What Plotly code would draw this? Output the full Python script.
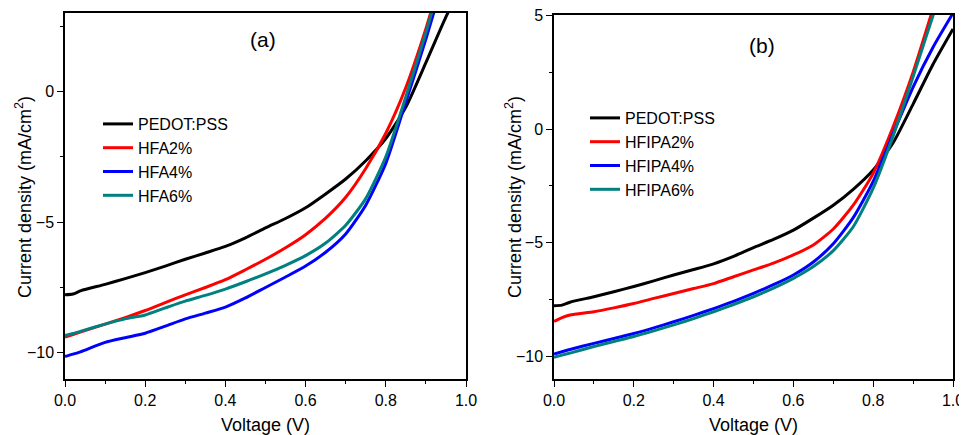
import plotly.graph_objects as go

# ---------------- data ----------------
voltage = [0.0, 0.02, 0.04, 0.1, 0.15, 0.2, 0.25, 0.3, 0.35, 0.4, 0.45, 0.5,
           0.55, 0.6, 0.65, 0.7, 0.75, 0.8, 0.85, 0.9, 0.95, 1.0]

pedot = [-7.78, -7.75, -7.62, -7.38, -7.16, -6.93, -6.68, -6.42, -6.18, -5.93,
         -5.6, -5.22, -4.86, -4.45, -3.92, -3.35, -2.65, -1.8, -0.6, 1.1, 2.85, 4.4]

# panel (a)
hfa2 = [-9.4, -9.3, -9.2, -8.9, -8.65, -8.38, -8.08, -7.78, -7.5, -7.2, -6.82,
        -6.42, -5.98, -5.48, -4.85, -4.05, -2.95, -1.6, 0.15, 2.4, 5.0, 7.6]
hfa4 = [-10.14, -10.05, -9.95, -9.6, -9.42, -9.25, -8.98, -8.7, -8.48, -8.25,
        -7.9, -7.5, -7.1, -6.68, -6.15, -5.45, -4.35, -2.75, -0.4, 2.0, 4.6, 7.2]
hfa6 = [-9.34, -9.26, -9.17, -8.9, -8.7, -8.55, -8.28, -8.02, -7.8, -7.56,
        -7.28, -6.98, -6.65, -6.28, -5.8, -5.12, -4.1, -2.5, -0.2, 2.25, 4.9, 7.5]

# panel (b)
hfipa2 = [-8.47, -8.3, -8.18, -8.04, -7.87, -7.68, -7.45, -7.24, -7.02, -6.8,
          -6.5, -6.2, -5.9, -5.54, -5.1, -4.4, -3.35, -1.95, 0.1, 2.5, 5.3, 8.0]
hfipa4 = [-9.9, -9.8, -9.7, -9.43, -9.22, -9.0, -8.75, -8.48, -8.2, -7.9,
          -7.58, -7.23, -6.85, -6.42, -5.85, -5.05, -3.9, -2.3, -0.2, 1.85, 3.6, 5.1]
hfipa6 = [-10.04, -9.95, -9.86, -9.57, -9.35, -9.13, -8.88, -8.62, -8.34, -8.04,
          -7.72, -7.38, -7.0, -6.57, -6.05, -5.35, -4.3, -2.6, -0.3, 2.3, 5.0, 7.6]

names_a = ["PEDOT:PSS", "HFA2%", "HFA4%", "HFA6%"]
names_b = ["PEDOT:PSS", "HFIPA2%", "HFIPA4%", "HFIPA6%"]
colors = ["#000000", "#ff0000", "#0000ff", "#008080"]

x_ticks = [0.0, 0.2, 0.4, 0.6, 0.8, 1.0]
x_ticktext = ["0.0", "0.2", "0.4", "0.6", "0.8", "1.0"]
y_ticks_a = [-10, -5, 0]
y_ticks_b = [-10, -5, 0, 5]
y_title = "Current density (mA/cm<sup>2</sup>)"
x_title = "Voltage (V)"

FONT = "Liberation Sans, Arial, sans-serif"

fig = go.Figure()
for name, ys, c in zip(names_a, [pedot, hfa2, hfa4, hfa6], colors):
    fig.add_trace(go.Scatter(x=voltage, y=ys, name=name, mode="lines",
                             line=dict(color=c, width=3, shape="spline", smoothing=0.6),
                             xaxis="x", yaxis="y", legend="legend"))
for name, ys, c in zip(names_b, [pedot, hfipa2, hfipa4, hfipa6], colors):
    fig.add_trace(go.Scatter(x=voltage, y=ys, name=name, mode="lines",
                             line=dict(color=c, width=3, shape="spline", smoothing=0.6),
                             xaxis="x2", yaxis="y2", legend="legend2"))

# page body has an 8px margin -> figure is drawn 8px right/down of the window origin
OFF = 8
W, H = 967 - OFF, 435 - OFF
ML, MR, MT, MB = 65 - OFF, 14, 13 - OFF, 56
PW, PH = W - ML - MR, H - MT - MB

def fx(sx):
    return (sx - OFF - ML) / PW

def fy(sy):
    return (H - MB - (sy - OFF)) / PH

common_x = dict(range=[0, 1], tickvals=x_ticks, ticktext=x_ticktext, automargin=False,
                ticklabeloverflow="allow",
                ticks="outside", ticklen=6, tickwidth=1.3, tickcolor="black",
                showline=True, linecolor="black", linewidth=1.5, mirror=True,
                showgrid=False, zeroline=False,
                minor=dict(dtick=0.1, ticks="outside", ticklen=3, tickwidth=1.3, tickcolor="black"),
                tickfont=dict(family=FONT, size=16, color="black"),
                title=dict(text=x_title, font=dict(family=FONT, size=18, color="black"), standoff=10))
common_y = dict(ticks="outside", ticklen=6, tickwidth=1.3, tickcolor="black", automargin=False,
                ticklabeloverflow="allow",
                showline=True, linecolor="black", linewidth=1.5, mirror=True,
                showgrid=False, zeroline=False,
                minor=dict(dtick=2.5, ticks="outside", ticklen=3, tickwidth=1.3, tickcolor="black"),
                tickfont=dict(family=FONT, size=16, color="black"))

ytitle_font = dict(family=FONT, size=18, color="black")

fig.update_layout(
    width=W, height=H,
    margin=dict(l=ML, r=MR, t=MT, b=MB, autoexpand=False),
    paper_bgcolor="white", plot_bgcolor="white",
    xaxis=dict(domain=[fx(65), fx(466)], anchor="y", **common_x),
    yaxis=dict(domain=[fy(379), fy(13)], anchor="x", range=[-11, 3], tickvals=y_ticks_a, **common_y),
    xaxis2=dict(domain=[fx(554), fx(953)], anchor="y2", **common_x),
    yaxis2=dict(domain=[fy(379), fy(15)], anchor="x2", range=[-11, 5.02], tickvals=y_ticks_b, **common_y),
    legend=dict(x=fx(98), y=fy(107), xanchor="left", yanchor="top",
                bgcolor="rgba(0,0,0,0)", font=dict(family=FONT, size=16, color="black"),
                tracegroupgap=0),
    legend2=dict(x=fx(585), y=fy(101), xanchor="left", yanchor="top",
                 bgcolor="rgba(0,0,0,0)", font=dict(family=FONT, size=16, color="black"),
                 tracegroupgap=0),
    annotations=[
        dict(text="(a)", x=fx(263), y=fy(40), xref="paper", yref="paper",
             xanchor="center", yanchor="middle",
             showarrow=False, font=dict(family=FONT, size=21, color="black")),
        dict(text="(b)", x=fx(762), y=fy(45), xref="paper", yref="paper",
             xanchor="center", yanchor="middle",
             showarrow=False, font=dict(family=FONT, size=21, color="black")),
        dict(text=y_title, x=fx(23), y=fy(197), xref="paper", yref="paper",
             xanchor="center", yanchor="middle", textangle=-90,
             showarrow=False, font=ytitle_font),
        dict(text=y_title, x=fx(513), y=fy(197), xref="paper", yref="paper",
             xanchor="center", yanchor="middle", textangle=-90,
             showarrow=False, font=ytitle_font),
    ],
)

fig.write_html("out.html")
